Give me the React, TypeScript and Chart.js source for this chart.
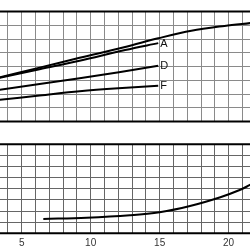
import React, { useEffect, useRef } from 'react';
import { Chart, registerables } from 'chart.js';

Chart.register(...registerables);

// Upper panel (head curves)
const mainX = [3.4, 6.3, 9.2, 12.5, 14.9, 17.3, 19.7, 21.6];
const mainY = [3.21, 3.92, 4.63, 5.42, 6.05, 6.6, 6.95, 7.16];
const aX = [3.4, 6.3, 9.2, 12.5, 14.9];
const aY = [3.17, 3.8, 4.42, 5.2, 5.7];
const dX = [3.4, 9.2, 14.9];
const dY = [2.31, 3.14, 4.05];
const fX = [3.4, 6.3, 9.2, 12.0, 14.9];
const fY = [1.58, 1.89, 2.2, 2.42, 2.6];
const curveLabels = ['', 'A', 'D', 'F'];

// Lower panel
const lowX = [6.57, 9.7, 12.85, 15.0, 17.2, 19.4, 20.8, 21.6];
const lowY = [1.29, 1.4, 1.62, 1.89, 2.45, 3.24, 3.89, 4.38];

const xTickLabels = [5, 10, 15, 20];
const X_MIN = 3.43;
const X_MAX = 21.55;
const Y_MIN = 0;
const Y_MAX = 8;

const toPts = (xs: number[], ys: number[]) => xs.map((x, i) => ({ x, y: ys[i] }));

const framePlugin = {
  id: 'frame',
  afterDraw(chart: any) {
    const { ctx, chartArea } = chart;
    ctx.save();
    ctx.strokeStyle = '#000';
    ctx.lineWidth = 2;
    ctx.beginPath();
    ctx.moveTo(chartArea.left, chartArea.top);
    ctx.lineTo(chartArea.right, chartArea.top);
    ctx.moveTo(chartArea.left, chartArea.bottom);
    ctx.lineTo(chartArea.right, chartArea.bottom);
    ctx.stroke();
    ctx.restore();
  },
};

const endLabelPlugin = {
  id: 'endLabels',
  afterDatasetsDraw(chart: any) {
    const { ctx } = chart;
    ctx.save();
    ctx.fillStyle = '#111';
    ctx.font = '11px "Liberation Sans", Arial, sans-serif';
    ctx.textAlign = 'left';
    ctx.textBaseline = 'middle';
    chart.data.datasets.forEach((ds: any, i: number) => {
      if (!ds.endLabel) return;
      const meta = chart.getDatasetMeta(i);
      const last = meta.data[meta.data.length - 1];
      if (!last) return;
      ctx.fillText(ds.endLabel, last.x + 2, last.y + 0.5);
    });
    ctx.restore();
  },
};

function lineDs(xs: number[], ys: number[], label: string) {
  return {
    data: toPts(xs, ys),
    endLabel: label,
    borderColor: '#000',
    borderWidth: 2,
    pointRadius: 0,
    fill: false,
    tension: 0.35,
  };
}

function App() {
  const topRef = useRef<HTMLCanvasElement | null>(null);
  const botRef = useRef<HTMLCanvasElement | null>(null);

  useEffect(() => {
    const gridTop = { color: '#8a8a8a', lineWidth: 1, drawTicks: false };
    const gridBot = { color: '#666', lineWidth: 1, drawTicks: false };

    const top = new Chart(topRef.current as HTMLCanvasElement, {
      type: 'line',
      data: {
        datasets: [
          lineDs(mainX, mainY, curveLabels[0]),
          lineDs(aX, aY, curveLabels[1]),
          lineDs(dX, dY, curveLabels[2]),
          lineDs(fX, fY, curveLabels[3]),
        ] as any,
      },
      options: {
        animation: false,
        responsive: false,
        devicePixelRatio: 1,
        layout: { padding: { top: 11.5, bottom: 3.5, left: 0, right: 0 } },
        plugins: { legend: { display: false }, tooltip: { enabled: false } },
        scales: {
          x: {
            type: 'linear',
            min: X_MIN,
            max: X_MAX,
            ticks: { display: false, stepSize: 1, includeBounds: false },
            grid: gridTop,
            border: { display: false },
            afterFit: (s: any) => { s.height = 0; },
          },
          y: {
            type: 'linear',
            min: Y_MIN,
            max: Y_MAX,
            ticks: { display: false, stepSize: 1 },
            grid: gridTop,
            border: { display: false },
            afterFit: (s: any) => { s.width = 0; },
          },
        },
      } as any,
      plugins: [framePlugin, endLabelPlugin],
    });

    const bot = new Chart(botRef.current as HTMLCanvasElement, {
      type: 'line',
      data: {
        datasets: [lineDs(lowX, lowY, '')] as any,
      },
      options: {
        animation: false,
        responsive: false,
        devicePixelRatio: 1,
        layout: { padding: { top: 19.3, bottom: 0, left: 0, right: 0 } },
        plugins: { legend: { display: false }, tooltip: { enabled: false } },
        scales: {
          x: {
            type: 'linear',
            min: X_MIN,
            max: X_MAX,
            ticks: {
              display: true,
              stepSize: 1,
              includeBounds: false,
              autoSkip: false,
              maxRotation: 0,
              padding: 4,
              color: '#333',
              font: { family: '"Liberation Sans", Arial, sans-serif', size: 10 },
              callback: (v: any) => (xTickLabels.includes(Number(v)) ? String(v) : ''),
            },
            grid: gridBot,
            border: { display: false },
            afterFit: (s: any) => { s.height = 16.7; },
          },
          y: {
            type: 'linear',
            min: Y_MIN,
            max: Y_MAX,
            ticks: { display: false, stepSize: 1 },
            grid: gridBot,
            border: { display: false },
            afterFit: (s: any) => { s.width = 0; },
          },
        },
      } as any,
      plugins: [framePlugin],
    });

    return () => {
      top.destroy();
      bot.destroy();
    };
  }, []);

  return (
    <div style={{ position: 'absolute', left: 0, top: 0, width: 250, height: 250, background: '#fff', overflow: 'hidden' }}>
      <canvas ref={topRef} width={250} height={125} style={{ position: 'absolute', left: 0, top: 0, width: 250, height: 125 }} />
      <canvas ref={botRef} width={250} height={125} style={{ position: 'absolute', left: 0, top: 125, width: 250, height: 125 }} />
    </div>
  );
}

export default App;
